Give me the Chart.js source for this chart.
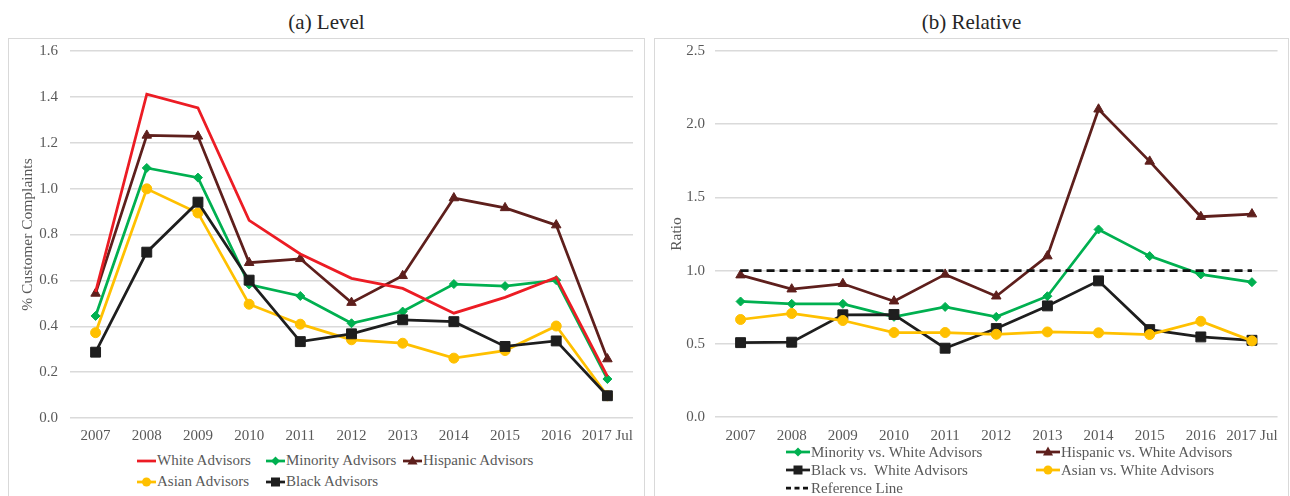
<!DOCTYPE html>
<html>
<head>
<meta charset="utf-8">
<script src="https://cdn.jsdelivr.net/npm/chart.js@4.4.0/dist/chart.umd.min.js"></script>
<style>
  body { margin: 0; width: 1290px; height: 496px; background: #fff; position: relative; overflow: hidden;
         font-family: 'Liberation Serif', 'Times New Roman', serif; }
  .panel { position: absolute; top: 38px; height: 470px; border: 1px solid #d9d9d9; box-sizing: border-box; }
  .title { position: absolute; top: 9px; height: 26px; line-height: 26px; font-size: 21px; color: #262626; text-align: center; }
  canvas { position: absolute; }
  .legend { position: absolute; display: grid; font-size: 15px; color: #595959; white-space: pre; }
  .item { display: flex; align-items: center; }
  .item svg { flex: none; }
</style>
</head>
<body>
<div class="panel" style="left:8px;width:637px"></div>
<div class="panel" style="left:654px;width:635px"></div>
<div class="title" style="left:8px;width:637px">(a) Level</div>
<div class="title" style="left:654px;width:635px">(b) Relative</div>
<canvas id="level" width="637" height="412" style="left:8px;top:38px"></canvas>
<canvas id="relative" width="634" height="411" style="left:654px;top:38px"></canvas>
<div class="legend" id="levelLegend" style="left:137px;top:450px;grid-template-columns:129px 137px auto;grid-auto-rows:21px"></div>
<div class="legend" id="relativeLegend" style="left:786px;top:443px;grid-template-columns:250px auto;grid-auto-rows:18px"></div>
<script>
// x categories
const categories = ['2007', '2008', '2009', '2010', '2011', '2012', '2013', '2014', '2015', '2016', '2017 Jul'];

// (a) Level, % customer complaints
const whiteAdvisors    = [0.550, 1.412, 1.352, 0.862, 0.715, 0.609, 0.565, 0.457, 0.526, 0.613, 0.181];
const minorityAdvisors = [0.445, 1.090, 1.048, 0.582, 0.532, 0.413, 0.464, 0.584, 0.575, 0.601, 0.170];
const hispanicAdvisors = [0.543, 1.232, 1.228, 0.677, 0.694, 0.503, 0.620, 0.959, 0.916, 0.841, 0.257];
const asianAdvisors    = [0.372, 0.999, 0.894, 0.496, 0.409, 0.341, 0.326, 0.261, 0.294, 0.401, 0.097];
const blackAdvisors    = [0.287, 0.723, 0.941, 0.601, 0.333, 0.367, 0.428, 0.420, 0.312, 0.336, 0.097];

// (b) Relative, ratio vs white advisors
const minorityRatio = [0.789, 0.773, 0.773, 0.684, 0.752, 0.684, 0.825, 1.281, 1.099, 0.974, 0.921];
const hispanicRatio = [0.969, 0.873, 0.910, 0.791, 0.974, 0.825, 1.099, 2.102, 1.746, 1.368, 1.386];
const blackRatio    = [0.508, 0.511, 0.698, 0.700, 0.470, 0.604, 0.759, 0.930, 0.597, 0.547, 0.524];
const asianRatio    = [0.666, 0.707, 0.659, 0.577, 0.577, 0.565, 0.581, 0.575, 0.563, 0.654, 0.520];
const referenceLine = [1, 1, 1, 1, 1, 1, 1, 1, 1, 1, 1];

const FONT = "'Liberation Serif', 'Times New Roman', serif";
const TICK = '#595959';
const GRID = '#dadada';
const RED = '#ec1c24', GREEN = '#00b050', BROWN = '#5e1f1c', YELLOW = '#ffc000', BLACK = '#1e1e1e';

function line(label, data, color, style, radius, order, dash) {
  return {
    label, data, order,
    borderColor: color, backgroundColor: color,
    borderWidth: 2.75, borderDash: dash || [],
    pointStyle: style, pointRadius: radius, pointHoverRadius: radius,
    pointBorderWidth: 1, pointBorderColor: color, pointBackgroundColor: color,
    tension: 0, fill: false
  };
}

function makeChart(id, datasets, yMax, yStep, yTitle, cfg) {
  return new Chart(document.getElementById(id), {
    type: 'line',
    data: { labels: categories, datasets },
    options: {
      responsive: false, animation: false, devicePixelRatio: 1,
      layout: { padding: { top: 13, right: cfg.padRight, left: 0, bottom: 0 } },
      plugins: { legend: { display: false }, tooltip: { enabled: false } },
      scales: {
        x: {
          offset: true,
          grid: { display: false, drawTicks: false },
          border: { display: false },
          ticks: { color: TICK, font: { family: FONT, size: 15 }, padding: cfg.xPad, maxRotation: 0, autoSkip: false },
          afterFit: s => { s.height = 32; }
        },
        y: {
          min: 0, max: yMax,
          grid: { color: GRID, lineWidth: 1.5, drawTicks: false },
          border: { display: false },
          ticks: { stepSize: yStep, padding: cfg.tickPad, color: TICK, font: { family: FONT, size: 15 },
                   callback: v => v.toFixed(1) },
          title: { display: true, text: yTitle, color: TICK, font: { family: FONT, size: 15.5 },
                   padding: { top: cfg.titlePad, bottom: 0 } },
          // keep the plot area where the reference has it
          afterFit: s => { s.width = cfg.yWidth; s.paddingTop = 0; s.paddingBottom = 0; }
        }
      }
    }
  });
}

// legend samples: short line with the marker in the middle
function sample(ds, w) {
  const c = ds.borderColor, m = w / 2, y = 7;
  let mark = '';
  if (ds.pointRadius > 0) {
    if (ds.pointStyle === 'rectRot') mark = `<polygon points="${m},${y-4.5} ${m+4.5},${y} ${m},${y+4.5} ${m-4.5},${y}" fill="${c}"/>`;
    else if (ds.pointStyle === 'triangle') mark = `<polygon points="${m},${y-5.5} ${m+5},${y+3.5} ${m-5},${y+3.5}" fill="${c}"/>`;
    else if (ds.pointStyle === 'rect') mark = `<rect x="${m-4.5}" y="${y-4.5}" width="9" height="9" fill="${c}"/>`;
    else mark = `<circle cx="${m}" cy="${y}" r="4.5" fill="${c}"/>`;
  }
  const dash = ds.borderDash.length ? 'stroke-dasharray="5 3.5"' : '';
  return `<svg width="${w}" height="14"><line x1="0" y1="${y}" x2="${w}" y2="${y}" stroke="${c}" stroke-width="2.75" ${dash}/>${mark}</svg>`;
}

function buildLegend(chart, boxId, w) {
  const box = document.getElementById(boxId);
  chart.data.datasets.forEach(ds => {
    const item = document.createElement('div');
    item.className = 'item';
    item.innerHTML = sample(ds, w) + `<span style="margin-left:1px">${ds.label}</span>`;
    box.appendChild(item);
  });
}

function draw() {
  const level = makeChart('level', [
    line('White Advisors', whiteAdvisors, RED, 'circle', 0, 2),
    line('Minority Advisors', minorityAdvisors, GREEN, 'rectRot', 4.5, 4),
    line('Hispanic Advisors', hispanicAdvisors, BROWN, 'triangle', 5.5, 3),
    line('Asian Advisors', asianAdvisors, YELLOW, 'circle', 5, 5),
    line('Black Advisors', blackAdvisors, BLACK, 'rect', 7, 1)
  ], 1.6, 0.2, '% Customer Complaints', { yWidth: 62, tickPad: 12, titlePad: 10.7, padRight: 12, xPad: 9 });

  const relative = makeChart('relative', [
    line('Minority vs. White Advisors', minorityRatio, GREEN, 'rectRot', 4.5, 3),
    line('Hispanic vs. White Advisors', hispanicRatio, BROWN, 'triangle', 5.5, 4),
    line('Black vs.  White Advisors', blackRatio, BLACK, 'rect', 7, 2),
    line('Asian vs. White Advisors', asianRatio, YELLOW, 'circle', 5, 1),
    line('Reference Line', referenceLine, '#111', 'circle', 0, 0, [8, 5])
  ], 2.5, 0.5, 'Ratio', { yWidth: 61, tickPad: 10, titlePad: 13.7, padRight: 9, xPad: 10 });

  buildLegend(level, 'levelLegend', 19);
  buildLegend(relative, 'relativeLegend', 24);
}

document.fonts.load("15px 'Liberation Serif'").then(draw, draw);
</script>
</body>
</html>
